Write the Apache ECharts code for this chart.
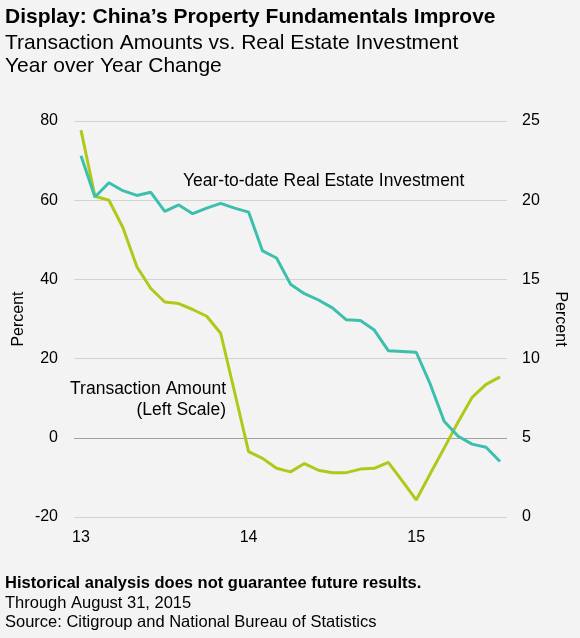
<!DOCTYPE html>
<html>
<head>
<meta charset="utf-8">
<script src="https://cdn.jsdelivr.net/npm/echarts@6/dist/echarts.min.js"></script>
<style>
html,body{margin:0;padding:0;background:#f3f3f3;}
#chart{width:580px;height:638px;}
</style>
</head>
<body>
<div id="chart"></div>
<script>
var months = [];
(function(){
  var yrs = ['13','14','15'];
  for (var y = 0; y < 3; y++) for (var m = 1; m <= 12; m++) months.push(yrs[y] + '-' + m);
})();
var categories = months.slice(0, 31);
var xTickLabels = {0: '13', 12: '14', 24: '15'};

var transactionAmount = [77.7, 61.0, 60.0, 53.1, 43.2, 37.7, 34.3, 33.9, 32.4, 30.7, 26.4, 11.5,
  -3.5, -5.2, -7.7, -8.6, -6.5, -8.2, -8.8, -8.8, -7.9, -7.7, -6.2, -10.9,
  -15.7, -9.1, -2.6, 4.0, 10.2, 13.5, 15.4];
var realEstateInvestment = [22.8, 20.2, 21.1, 20.6, 20.3, 20.5, 19.3, 19.7, 19.15, 19.5, 19.8, 19.5,
  19.25, 16.8, 16.35, 14.7, 14.1, 13.7, 13.2, 12.45, 12.4, 11.8, 10.5, 10.45,
  10.4, 8.4, 6.05, 5.1, 4.6, 4.4, 3.5];
var leftTicks = [-20, 80, 20];
var rightTicks = [0, 25, 5];

var FONT = '"Liberation Sans", Arial, sans-serif';
var chart = echarts.init(document.getElementById('chart'));
chart.setOption({
  backgroundColor: '#f3f3f3',
  animation: false,
  textStyle: {fontFamily: FONT},
  grid: {left: 74, right: 73, top: 121, bottom: 121, containLabel: false},
  xAxis: {
    type: 'category',
    data: categories,
    boundaryGap: true,
    axisLine: {show: false},
    axisTick: {show: false},
    axisLabel: {
      interval: 0,
      color: '#000',
      fontSize: 16,
      fontFamily: FONT,
      margin: 13,
      formatter: function (v, i) { return xTickLabels[i] || ''; }
    },
    splitLine: {show: false}
  },
  yAxis: [{
    type: 'value',
    min: leftTicks[0], max: leftTicks[1], interval: leftTicks[2],
    name: 'Percent',
    nameLocation: 'middle',
    nameGap: 47,
    nameMoveOverlap: false,
    nameRotate: 90,
    nameTextStyle: {color: '#000', fontSize: 16, fontFamily: FONT},
    axisLine: {show: false},
    axisTick: {show: false},
    axisLabel: {color: '#000', fontSize: 16, fontFamily: FONT, margin: 16},
    splitLine: {show: true, lineStyle: {color: '#d2d2d2', width: 1}}
  }, {
    type: 'value',
    min: rightTicks[0], max: rightTicks[1], interval: rightTicks[2],
    name: 'Percent',
    nameLocation: 'middle',
    nameGap: 45,
    nameRotate: -90,
    nameTextStyle: {color: '#000', fontSize: 16, fontFamily: FONT},
    axisLine: {show: false},
    axisTick: {show: false},
    axisLabel: {color: '#000', fontSize: 16, fontFamily: FONT, margin: 15},
    splitLine: {show: false}
  }],
  series: [{
    name: 'Transaction Amount',
    type: 'line',
    yAxisIndex: 0,
    data: transactionAmount,
    symbol: 'none',
    lineStyle: {color: '#b2c819', width: 3},
    itemStyle: {color: '#b2c819'},
    z: 3,
    markLine: {
      silent: true,
      symbol: 'none',
      label: {show: false},
      lineStyle: {color: '#a0a0a0', width: 1, type: 'solid'},
      data: [{yAxis: 0}],
      z: 1
    }
  }, {
    name: 'Year-to-date Real Estate Investment',
    type: 'line',
    yAxisIndex: 1,
    data: realEstateInvestment,
    symbol: 'none',
    lineStyle: {color: '#3dbfad', width: 3},
    itemStyle: {color: '#3dbfad'},
    z: 4
  }],
  graphic: [
    {type: 'text', left: 5, top: 7, style: {text: 'Display: China\u2019s Property Fundamentals Improve', font: 'bold 21px ' + FONT, fill: '#000'}},
    {type: 'text', left: 5, top: 33, style: {text: 'Transaction Amounts vs. Real Estate Investment', font: '21px ' + FONT, fill: '#000'}},
    {type: 'text', left: 5, top: 56, style: {text: 'Year over Year Change', font: '21px ' + FONT, fill: '#000'}},
    {type: 'text', left: 183, top: 172, style: {text: 'Year-to-date Real Estate Investment', font: '17.5px ' + FONT, fill: '#000'}},
    {type: 'text', right: 354, top: 380, style: {text: 'Transaction Amount', font: '17.5px ' + FONT, fill: '#000', align: 'right'}},
    {type: 'text', right: 354, top: 401, style: {text: '(Left Scale)', font: '17.5px ' + FONT, fill: '#000', align: 'right'}},
    {type: 'text', left: 5, top: 575, style: {text: 'Historical analysis does not guarantee future results.', font: 'bold 16.5px ' + FONT, fill: '#000'}},
    {type: 'text', left: 5, top: 595, style: {text: 'Through August 31, 2015', font: '16.5px ' + FONT, fill: '#000'}},
    {type: 'text', left: 5, top: 614, style: {text: 'Source: Citigroup and National Bureau of Statistics', font: '16.5px ' + FONT, fill: '#000'}}
  ]
});
</script>
</body>
</html>
